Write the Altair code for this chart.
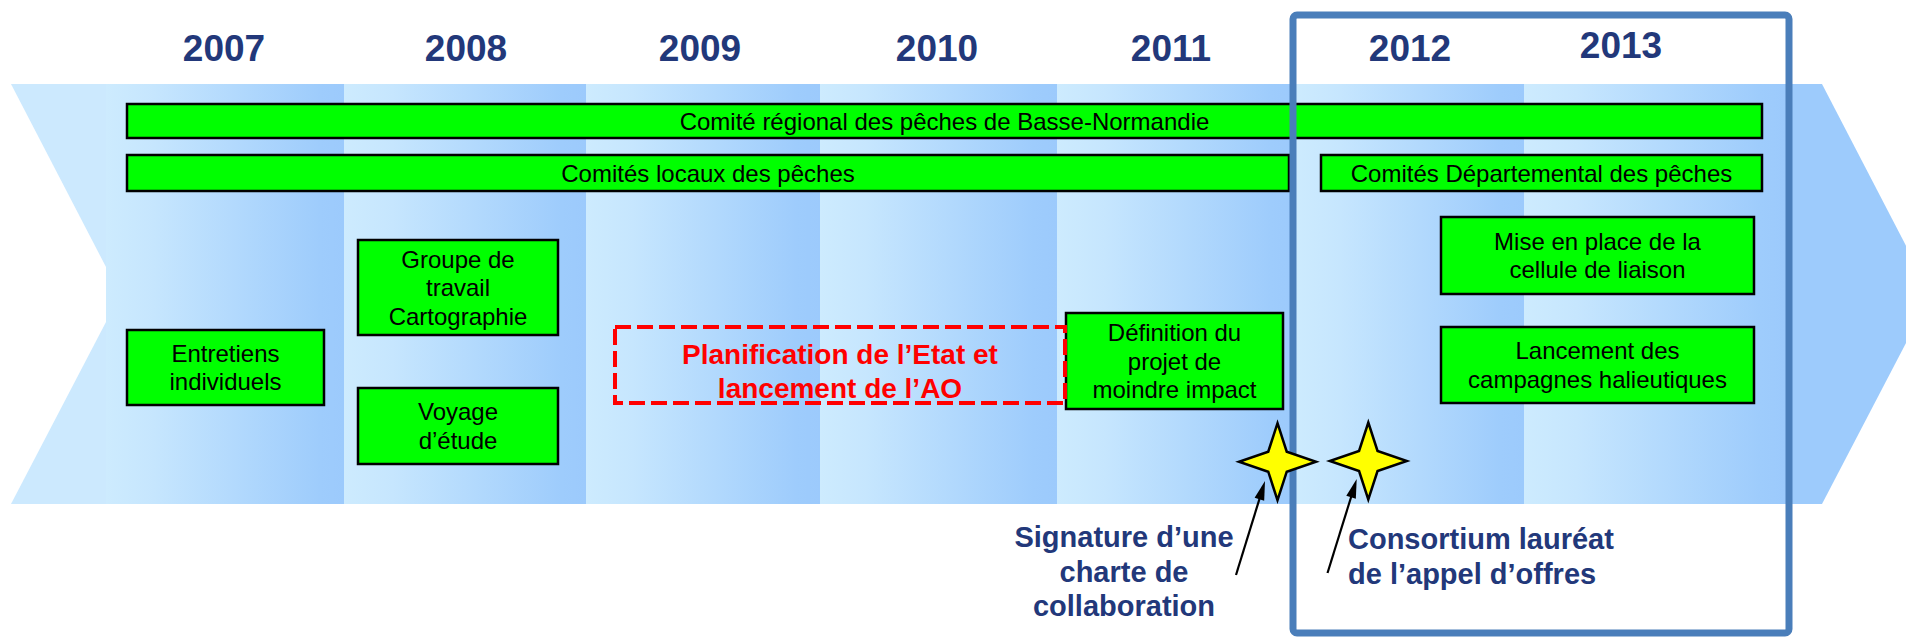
import math
import altair as alt
import pandas as pd

# Chart canvas (plot area) and page offset: data units are page pixels
W, H = 1898, 630
OX, OY = 8, 8

FONT = "Liberation Sans"
NAVY = "#22387A"
LIGHT = "#CCE9FE"
DARK = "#9DCBFC"
FRAME = "#4A7EBA"

# ---- timeline columns ----
years = ["2007", "2008", "2009", "2010", "2011", "2012", "2013"]
col_start = [106, 344, 586, 820, 1057, 1294, 1524]
col_end = [344, 586, 820, 1057, 1294, 1524, 1786]
year_x = [224, 466, 700, 937, 1171, 1410, 1621]
year_y = [50, 50, 50, 50, 50, 50, 47]
band_top, band_bottom = 84, 504

# arrow tail (notch) and head outline pieces
tail_part = ["top", "top", "bottom", "bottom"]
tail_x = [11, 106, 11, 106]
tail_y = [84, 84, 504, 322]
tail_y2 = [84, 267, 504, 504]
head_x = [1786, 1822, 1917]
head_y = [84, 84, 267]
head_y2 = [504, 504, 322]

# ---- green boxes ----
box_labels = [
    "Comité régional des pêches de Basse-Normandie",
    "Comités locaux des pêches",
    "Comités Départemental des pêches",
    "Groupe de\ntravail\nCartographie",
    "Entretiens\nindividuels",
    "Voyage\nd’étude",
    "Définition du\nprojet de\nmoindre impact",
    "Mise en place de la\ncellule de liaison",
    "Lancement des\ncampagnes halieutiques",
]
box_x0 = [127, 127, 1321, 358, 127, 358, 1066, 1441, 1441]
box_x1 = [1762, 1289, 1762, 558, 324, 558, 1283, 1754, 1754]
box_y0 = [104, 155, 155, 240, 330, 388, 313, 217, 327]
box_y1 = [138, 191, 191, 335, 405, 464, 409, 294, 403]
LINE_H = 28.5

# ---- red dashed planning box ----
plan_lines = ["Planification de l’Etat et", "lancement de l’AO"]
plan_box = dict(x=615, x2=1065, y=327, y2=403)
plan_text_x = 840
plan_text_y = [356, 390]

# ---- milestones (stars) and annotations ----
star_x = [1277.5, 1368.3]
star_y = [461.7, 461.0]
arrow_tail_x = [1236, 1327.5]
arrow_tail_y = [575, 573]
arrow_tip_x = [1265, 1356.7]
arrow_tip_y = [481, 479]

sig_lines = ["Signature d’une", "charte de", "collaboration"]
sig_x = 1124
sig_y = [538, 573, 607]
cons_lines = ["Consortium lauréat", "de l’appel d’offres"]
cons_x = 1348
cons_y = [540, 575]

frame = dict(x=1293, x2=1789, y=15, y2=633)

# ================= build tables =================
xs = alt.Scale(domain=[OX, OX + W], nice=False, zero=False)
ys = alt.Scale(domain=[OY, OY + H], nice=False, zero=False, reverse=True)


def X(f="x"):
    return alt.X(f"{f}:Q", scale=xs, axis=None)


def Y(f="y"):
    return alt.Y(f"{f}:Q", scale=ys, axis=None)


tail_df = pd.DataFrame({"part": tail_part, "x": tail_x, "y": tail_y, "y2": tail_y2})
head_df = pd.DataFrame({"x": head_x, "y": head_y, "y2": head_y2})
cols_df = pd.DataFrame({"year": years, "x": col_start, "x2": col_end,
                        "y": band_top, "y2": band_bottom})
years_df = pd.DataFrame({"year": years, "x": year_x, "y": year_y})

boxes_df = pd.DataFrame({"label": box_labels, "x": box_x0, "x2": box_x1,
                         "y": box_y0, "y2": box_y1})
rows = []
for lab, a, b, c, d in zip(box_labels, box_x0, box_x1, box_y0, box_y1):
    parts = lab.split("\n")
    n = len(parts)
    cy = (c + d) / 2 + 1.5
    for i, p in enumerate(parts):
        rows.append({"t": p, "x": (a + b) / 2, "y": cy + (i - (n - 1) / 2) * LINE_H})
boxtext_df = pd.DataFrame(rows)

plan_df = pd.DataFrame([plan_box])
plantext_df = pd.DataFrame({"t": plan_lines, "x": plan_text_x, "y": plan_text_y})

stars_df = pd.DataFrame({"x": star_x, "y": star_y})

arr_rows = []
for tx, ty, hx, hy in zip(arrow_tail_x, arrow_tail_y, arrow_tip_x, arrow_tip_y):
    dx, dy = hx - tx, hy - ty
    L = math.hypot(dx, dy)
    ang = math.degrees(math.atan2(dx, -dy)) % 360
    ex, ey = hx - dx / L * 12, hy - dy / L * 12
    arr_rows.append({"x": tx, "y": ty, "x2": ex, "y2": ey, "hx": hx, "hy": hy, "angle": ang})
arrows_df = pd.DataFrame(arr_rows)

sig_df = pd.DataFrame({"t": sig_lines, "x": sig_x, "y": sig_y})
cons_df = pd.DataFrame({"t": cons_lines, "x": cons_x, "y": cons_y})
frame_df = pd.DataFrame([frame])

# ================= layers =================
tail = alt.Chart(tail_df).mark_area(color=LIGHT, opacity=1).encode(
    x=X(), y=Y(), y2="y2:Q", detail="part:N")
head = alt.Chart(head_df).mark_area(color=DARK, opacity=1, clip=False).encode(
    x=X(), y=Y(), y2="y2:Q")

grad = alt.LinearGradient(
    gradient="linear", x1=0, x2=1, y1=0, y2=0,
    stops=[alt.GradientStop(color="#CDEBFE", offset=0),
           alt.GradientStop(color="#C6E6FE", offset=0.2),
           alt.GradientStop(color="#9ECCFC", offset=0.9),
           alt.GradientStop(color="#9CCAFC", offset=1)])
cols = alt.Chart(cols_df).mark_rect(fill=grad, strokeWidth=0).encode(
    x=X(), x2="x2:Q", y=Y(), y2="y2:Q")

year_text = alt.Chart(years_df).mark_text(
    font=FONT, fontSize=37, fontWeight="bold", color=NAVY, baseline="middle", align="center"
).encode(x=X(), y=Y(), text="year:N")

boxes = alt.Chart(boxes_df).mark_rect(fill="#00FF00", stroke="black", strokeWidth=2.5).encode(
    x=X(), x2="x2:Q", y=Y(), y2="y2:Q")
box_text = alt.Chart(boxtext_df).mark_text(
    font=FONT, fontSize=24, color="black", baseline="middle", align="center"
).encode(x=X(), y=Y(), text="t:N")

plan = alt.Chart(plan_df).mark_rect(
    fill=None, fillOpacity=0, stroke="#FF0000", strokeWidth=4, strokeDash=[16, 6]
).encode(x=X(), x2="x2:Q", y=Y(), y2="y2:Q")
plan_text = alt.Chart(plantext_df).mark_text(
    font=FONT, fontSize=28, fontWeight="bold", color="#FF0000", baseline="middle", align="center"
).encode(x=X(), y=Y(), text="t:N")

frame_l = alt.Chart(frame_df).mark_rect(
    fillOpacity=0, stroke=FRAME, strokeWidth=7, cornerRadius=4, clip=False
).encode(x=X(), x2="x2:Q", y=Y(), y2="y2:Q")

STAR = "M0,-1 L0.24,-0.26 L1,0 L0.24,0.26 L0,1 L-0.24,0.26 L-1,0 L-0.24,-0.26 Z"
stars = alt.Chart(stars_df).mark_point(
    shape=STAR, size=77 * 77, filled=True, fill="#FFFF00", stroke="black",
    strokeWidth=2.5, opacity=1, fillOpacity=1
).encode(x=X(), y=Y())

shafts = alt.Chart(arrows_df).mark_rule(color="black", strokeWidth=2.2).encode(
    x=X(), y=Y(), x2="x2:Q", y2="y2:Q")
HEAD = "M0,0 L0.5,1.9 L-0.5,1.9 Z"
heads = alt.Chart(arrows_df).mark_point(
    shape=HEAD, size=400, filled=True, color="black", opacity=1
).encode(x=X("hx"), y=Y("hy"), angle=alt.Angle("angle:Q", scale=None))

sig_text = alt.Chart(sig_df).mark_text(
    font=FONT, fontSize=29, fontWeight="bold", color=NAVY, baseline="middle", align="center"
).encode(x=X(), y=Y(), text="t:N")
cons_text = alt.Chart(cons_df).mark_text(
    font=FONT, fontSize=29, fontWeight="bold", color=NAVY, baseline="middle", align="left"
).encode(x=X(), y=Y(), text="t:N")

chart = alt.layer(
    tail, head, cols, year_text, boxes, box_text, plan, plan_text,
    frame_l, stars, shafts, heads, sig_text, cons_text
).properties(
    width=W, height=H, padding=0, autosize=alt.AutoSizeParams(type="none")
).configure_view(stroke=None)

chart.save("out.html", embed_options={"renderer": "svg", "actions": False})
